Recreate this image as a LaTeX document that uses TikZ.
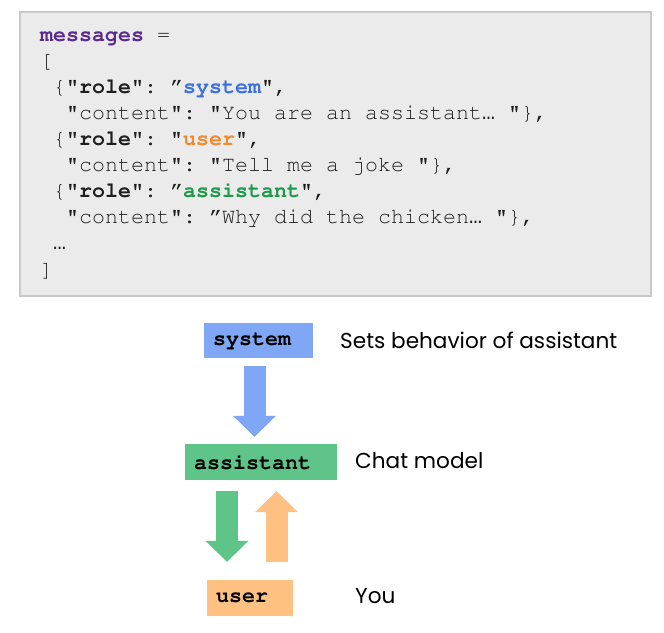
\documentclass[tikz,border=0pt]{standalone}
\usepackage[T1]{fontenc}
\usepackage{fontspec}
\usetikzlibrary{arrows.meta}
\newfontfamily\popfont{Poppins}
\newfontfamily\ellfont{Liberation Mono}
\newcommand{\cour}{\fontencoding{T1}\fontfamily{pcr}\fontsize{21.67}{26}\selectfont\frenchspacing}
\definecolor{boxfill}{HTML}{EBEBEB}
\definecolor{boxline}{HTML}{C9C9C9}
\definecolor{codeink}{HTML}{1E1E1E}
\definecolor{msgpurple}{HTML}{5B2A8C}
\definecolor{sysink}{HTML}{3B70E0}
\definecolor{userink}{HTML}{F08A2C}
\definecolor{asstink}{HTML}{1E9A4B}
\definecolor{sysblue}{HTML}{7FA7F5}
\definecolor{asstgreen}{HTML}{5EC487}
\definecolor{userorange}{HTML}{FFC182}
\tikzset{%
	codebox/.style={fill=boxfill,draw=boxline,line width=1.2pt},
	codeline/.style={anchor=base west,inner sep=0pt,outer sep=0pt,font=\cour,text=codeink},
	rolebox/.style={minimum height=35pt,inner xsep=9pt,inner ysep=0pt,align=left,font=\cour\bfseries,text=black},
	note/.style={anchor=base west,inner sep=0pt,font=\popfont\fontsize{21.6}{26}\selectfont,text=black},
	fatarrow/.style={line width=22pt,-{Triangle[width=43pt,length=21pt,line width=0pt]}},
}
\begin{document}
\begin{tikzpicture}[x=1pt,y=-1pt]
			\useasboundingbox (0,0) rectangle (664,632);
			\draw[codebox] (20,12) rectangle (651,296);
			
			%CODE
			\node[codeline] (msg) at (40,41) {\textcolor{msgpurple}{\bfseries messages} =};
			\node[codeline] (open) at (40,67.1) {[};
			\node[codeline] (role1) at (53,93.2) {\{\textbf{"role"}: \textquotedblright\textcolor{sysink}{\bfseries system}",};
			\node[codeline] (cont1) at (66,119.3) {"content": "You are an assistant{\ellfont …} "\},};
			\node[codeline] (role2) at (53,145.4) {\{\textbf{"role"}: "\textcolor{userink}{\bfseries user}",};
			\node[codeline] (cont2) at (66,171.5) {"content": "Tell me a joke "\},};
			\node[codeline] (role3) at (53,197.6) {\{\textbf{"role"}: \textquotedblright\textcolor{asstink}{\bfseries assistant}",};
			\node[codeline] (cont3) at (66,223.7) {"content": \textquotedblright Why did the chicken{\ellfont …} "\},};
			\node[codeline] (dots) at (53,249.8) {{\ellfont …}};
			\node[codeline] (close) at (40,276) {]};
			
			%ROLES
			\node[rolebox,fill=sysblue,text width=91pt] (system) at (258.5,340.5) {system};
			\node[rolebox,fill=asstgreen,text width=134pt,minimum height=36pt] (assistant) at (261,462) {assistant};
			\node[rolebox,fill=userorange,text width=68pt,minimum height=36pt] (user) at (250,598) {user};
			
			\node[note] (sysnote) at (340,348) {Sets behavior of assistant};
			\node[note] (asstnote) at (355,468) {Chat model};
			\node[note] (usernote) at (355,603) {You};
			
			%ARROWS
			\draw[fatarrow,sysblue] ([xshift=-4pt,yshift=-8pt]system.south) -- ([xshift=-6.5pt,yshift=7pt]assistant.north);
			\draw[fatarrow,asstgreen] ([xshift=-34pt,yshift=-11pt]assistant.south) -- ([xshift=-23pt,yshift=18pt]user.north);
			\draw[fatarrow,userorange] ([xshift=26.5pt,yshift=18pt]user.north) -- ([xshift=15.5pt,yshift=-11pt]assistant.south);
			
\end{tikzpicture}
\end{document}
